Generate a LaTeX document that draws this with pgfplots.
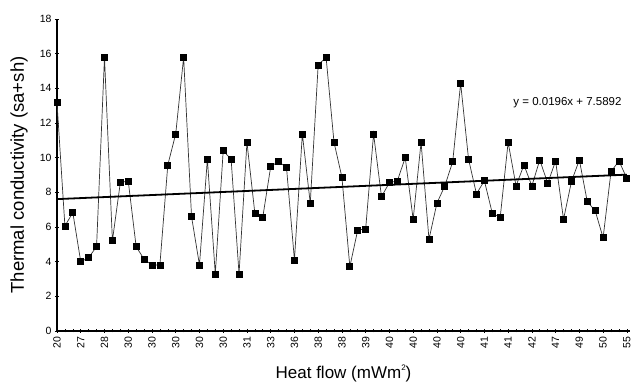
\documentclass[border=0pt]{standalone}
\usepackage{pgfplots}
\pgfplotsset{compat=1.18}
\usepackage{fontspec}
\setmainfont{Liberation Sans}
\begin{document}
\begin{tikzpicture}
\begin{axis}[
  scale only axis, width=573pt, height=312pt,
  xmin=0, xmax=72.4, ymin=0, ymax=18,
  axis x line*=bottom, axis y line*=left,
  axis line style={line width=1.8pt, -},
  xtick={0,3,...,72},
  xticklabels={20,27,28,30,30,30,30,30,31,33,36,38,38,39,40,40,40,40,41,41,42,47,49,50,55},
  minor xtick={0,...,72},
  ytick={0,2,...,18},
  tick align=center,
  major tick length=4pt, minor tick length=3pt,
  tick style={black, line width=0.6pt},
  x tick label style={rotate=90, anchor=east, font=\fontsize{10.5}{12}\selectfont},
  y tick label style={font=\fontsize{10.5}{12}\selectfont},
  /pgf/number format/assume math mode=true,
  xlabel={Heat flow (mWm\raisebox{0.9ex}{\fontsize{8}{9}\selectfont 2})},
  ylabel={Thermal conductivity (sa+sh)},
  xlabel style={font=\fontsize{17}{20}\selectfont, at={(axis description cs:0.5,-0.135)}, anchor=center},
  ylabel style={font=\fontsize{18.5}{21}\selectfont, at={(axis description cs:-0.066,0.5)}, anchor=center},
  clip=false,
]
\addplot[color=black!80, line width=0.7pt, mark=square*, mark size=3pt,
  mark options={fill=black, draw=black, solid}] coordinates {
(0,13.17) (1,6.06) (2,6.83) (3,4.00) (4,4.23) (5,4.87) (6,15.79) (7,5.21) (8,8.56) (9,8.66)
(10,4.87) (11,4.14) (12,3.81) (13,3.81) (14,9.58) (15,11.37) (16,15.79) (17,6.60) (18,3.81) (19,9.91)
(20,3.29) (21,10.40) (22,9.91) (23,3.29) (24,10.89) (25,6.79) (26,6.56) (27,9.48) (28,9.79) (29,9.42)
(30,4.10) (31,11.37) (32,7.37) (33,15.35) (34,15.79) (35,10.89) (36,8.87) (37,3.71) (38,5.83) (39,5.89)
(40,11.37) (41,7.75) (42,8.56) (43,8.66) (44,10.00) (45,6.44) (46,10.89) (47,5.29) (48,7.37) (49,8.37)
(50,9.77) (51,14.29) (52,9.91) (53,7.91) (54,8.67) (55,6.79) (56,6.56) (57,10.89) (58,8.37) (59,9.58)
(60,8.37) (61,9.87) (62,8.52) (63,9.81) (64,6.44) (65,8.62) (66,9.87) (67,7.46) (68,6.94) (69,5.38)
(70,9.19) (71,9.81) (72,8.81)
};
\addplot[black, line width=1.8pt, no marks] coordinates {(0,7.6088) (72,9.0200)};
\node[font=\fontsize{11.5}{13}\selectfont, anchor=center] at (axis cs:64.5,13.2) {y = 0.0196x + 7.5892};
\end{axis}
\pgfresetboundingbox
\path (-57pt,-54pt) rectangle (575pt,331pt);
\end{tikzpicture}
\end{document}
